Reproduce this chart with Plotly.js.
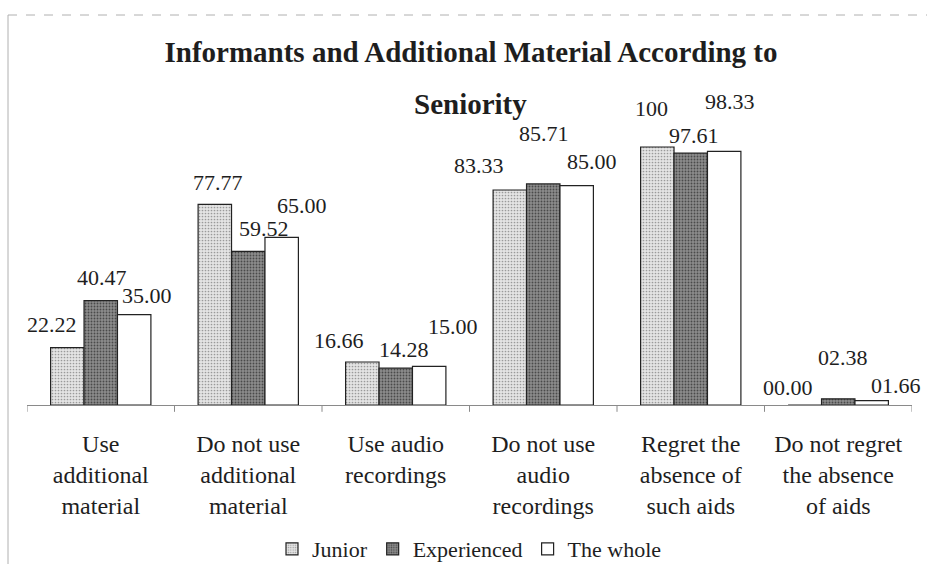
<!DOCTYPE html>
<html>
<head>
<meta charset="utf-8">
<script src="https://cdn.plot.ly/plotly-3.0.1.min.js"></script>
<style>
  html, body { margin: 0; padding: 0; background: #fff; }
  #chart { width: 927px; height: 564px; }
</style>
</head>
<body>
<div id="chart"></div>
<script>
// ---- data ----
var categories = [
  "Use<br>additional<br>material",
  "Do not use<br>additional<br>material",
  "Use audio<br>recordings",
  "Do not use<br>audio<br>recordings",
  "Regret the<br>absence of<br>such aids",
  "Do not regret<br>the absence<br>of aids"
];
var seriesNames = ["Junior", "Experienced", "The whole"];
var junior      = [22.22, 77.77, 16.66, 83.33, 100, 0.00];
var experienced = [40.47, 59.52, 14.28, 85.71, 97.61, 2.38];
var whole       = [35.00, 65.00, 15.00, 85.00, 98.33, 1.66];
var juniorLabels      = ["22.22", "77.77", "16.66", "83.33", "100", "00.00"];
var experiencedLabels = ["40.47", "59.52", "14.28", "85.71", "97.61", "02.38"];
var wholeLabels       = ["35.00", "65.00", "15.00", "85.00", "98.33", "01.66"];
var titleLine1 = "Informants and Additional Material According to";
var titleLine2 = "Seniority";

// ---- styling ----
var FONT = 'Liberation Serif';
var TXT = '#1e1e1e';
var bargap = 0.32;
var values = [junior, experienced, whole];
var labels = [juniorLabels, experiencedLabels, wholeLabels];
// label displacement (px) relative to bar top centre: [dx, dy up]
var labelShift = [
  [[-15,25],[3,24],[-23,24],[-31,27],[-6,41],[-17,20]],
  [[1,25],[16,25],[8,21],[1,52],[3,20],[5,43]],
  [[13,21],[20,34],[24,42],[15,26],[6,52],[24,17]]
];
var styles = [
  {color: '#dedede', pattern: {shape: '.', fgcolor: '#9a9a9a', bgcolor: '#e4e4e4', size: 3, solidity: 0.25}},
  {color: '#858585', pattern: {shape: '.', fgcolor: '#4a4a4a', bgcolor: '#8c8c8c', size: 3, solidity: 0.3}},
  {color: '#ffffff'}
];

var traces = values.map(function (v, s) {
  var m = {color: styles[s].color, line: {color: '#222', width: 1.2}};
  if (styles[s].pattern) m.pattern = styles[s].pattern;
  return {
    type: 'bar', name: seriesNames[s],
    x: categories.map(function (c, i) { return i; }),
    y: v, marker: m, hoverinfo: 'skip'
  };
});

var bw = (1 - bargap) / 3;
var annotations = [];
values.forEach(function (v, s) {
  v.forEach(function (val, i) {
    annotations.push({
      x: i + (s - 1) * bw, y: val, xref: 'x', yref: 'y',
      text: labels[s][i], showarrow: false,
      xanchor: 'center', yanchor: 'middle',
      xshift: labelShift[s][i][0], yshift: labelShift[s][i][1] - 2,
      font: {family: FONT, size: 22, color: TXT}
    });
  });
});
annotations.push({
  text: titleLine2, showarrow: false, xref: 'paper', yref: 'paper',
  x: (470 - 27) / 885, y: (405 - 104) / 310, xanchor: 'center', yanchor: 'middle',
  font: {family: FONT, size: 29, color: TXT, weight: 700}
});

var layout = {
  width: 927, height: 564,
  margin: {l: 27, r: 15, t: 95, b: 159, pad: 0},
  paper_bgcolor: '#fff', plot_bgcolor: '#fff',
  font: {family: FONT, color: TXT},
  barmode: 'group', bargap: bargap, bargroupgap: 0,
  title: {
    text: titleLine1, xref: 'container', yref: 'container',
    x: 471 / 927, y: 1 - 52 / 564, xanchor: 'center', yanchor: 'middle',
    font: {family: FONT, size: 29, color: TXT, weight: 700}
  },
  xaxis: {
    type: 'linear', range: [-0.5, 5.5],
    tickmode: 'array', tickvals: [0, 1, 2, 3, 4, 5], ticktext: categories,
    ticks: '', showgrid: false, zeroline: false,
    showline: true, linecolor: '#8a8a8a', linewidth: 1,
    ticklabelstandoff: 17,
    tickfont: {family: FONT, size: 24, color: TXT}
  },
  yaxis: {
    range: [0, 120.16], visible: false, showgrid: false, zeroline: false
  },
  showlegend: true,
  legend: {
    orientation: 'h', xref: 'paper', yref: 'container',
    x: 0.5, xanchor: 'center', y: 1 - 549 / 564, yanchor: 'middle',
    font: {family: FONT, size: 22, color: TXT},
    itemwidth: 30, tracegroupgap: 0, traceorder: 'normal'
  },
  annotations: annotations,
  shapes: [0,1,2,3,4,5,6].map(function (k) {
    return {type: 'line', xref: 'x', yref: 'paper', x0: k - 0.5, x1: k - 0.5,
            y0: 0, y1: -0.022, line: {color: '#8a8a8a', width: 1}};
  }).concat([
    {type: 'line', xref: 'paper', yref: 'paper', x0: -19 / 885, x1: 1.02, y0: 1 + 80 / 310, y1: 1 + 80 / 310,
     line: {color: '#b0b0b0', width: 1, dash: 'dash'}},
    {type: 'line', xref: 'paper', yref: 'paper', x0: -19 / 885, x1: -19 / 885, y0: 1 + 80 / 310, y1: -159 / 310,
     line: {color: '#b0b0b0', width: 1}}
  ])
};

Plotly.newPlot('chart', traces, layout, {displayModeBar: false, staticPlot: true});
</script>
</body>
</html>
